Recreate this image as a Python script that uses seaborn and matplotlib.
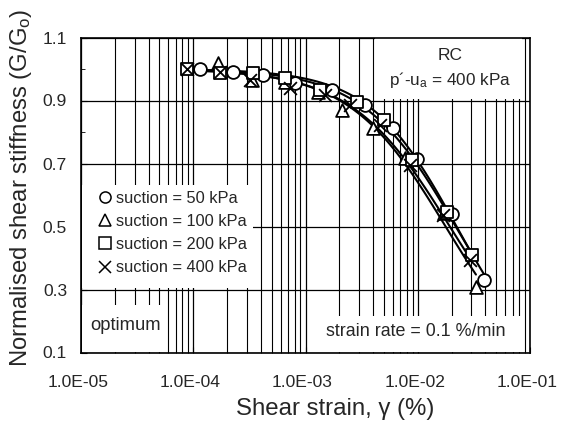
import numpy as np
import pandas as pd
import seaborn as sns
import matplotlib
matplotlib.use("Agg")
import matplotlib.pyplot as plt
import matplotlib.transforms as mtransforms
from matplotlib.lines import Line2D
from matplotlib.patches import Rectangle
from matplotlib.ticker import LogLocator, FixedLocator

# ---- data ----
strain_50 = [1.15e-4, 2.26e-4, 4.18e-4, 8.05e-4, 1.72e-3, 3.39e-3, 6.02e-3, 9.85e-3, 2.02e-2, 3.89e-2]
g_50 = [1.00, 0.99, 0.98, 0.956, 0.933, 0.886, 0.813, 0.715, 0.54, 0.33]

strain_100 = [1.66e-4, 3.33e-4, 6.56e-4, 1.29e-3, 2.11e-3, 3.99e-3, 7.69e-3, 1.71e-2, 3.30e-2]
g_100 = [1.019, 0.965, 0.959, 0.927, 0.870, 0.813, 0.717, 0.543, 0.308]

strain_200 = [8.8e-5, 1.73e-4, 3.40e-4, 6.56e-4, 1.35e-3, 2.88e-3, 5.0e-3, 8.9e-3, 1.82e-2, 3.04e-2]
g_200 = [1.0, 0.987, 0.987, 0.971, 0.933, 0.895, 0.838, 0.711, 0.546, 0.41]

strain_400 = [8.8e-5, 1.73e-4, 3.2e-4, 7.28e-4, 1.49e-3, 2.49e-3, 4.6e-3, 8.5e-3, 1.68e-2, 2.92e-2]
g_400 = [1.0, 0.99, 0.965, 0.94, 0.918, 0.886, 0.822, 0.695, 0.537, 0.394]

labels = ["suction = 50 kPa", "suction = 100 kPa", "suction = 200 kPa", "suction = 400 kPa"]
markers = ["o", "^", "s", "x"]

x_ticks = [1e-5, 1e-4, 1e-3, 1e-2, 1e-1]
x_tick_labels = ["1.0E-05", "1.0E-04", "1.0E-03", "1.0E-02", "1.0E-01"]
y_ticks = [0.1, 0.3, 0.5, 0.7, 0.9, 1.1]
y_tick_labels = ["0.1", "0.3", "0.5", "0.7", "0.9", "1.1"]

series = [
    pd.DataFrame({"strain": strain_50, "G": g_50}),
    pd.DataFrame({"strain": strain_100, "G": g_100}),
    pd.DataFrame({"strain": strain_200, "G": g_200}),
    pd.DataFrame({"strain": strain_400, "G": g_400}),
]


def hyperbolic_fit(d):
    """Least-squares fit of G/G0 = 1/(1+(g/gr)^a) to one series (trend curve)."""
    x = d["strain"].to_numpy()
    y = d["G"].to_numpy()
    grs = np.logspace(-3, 0, 400)
    aa = np.linspace(0.5, 2.0, 121)
    best = (np.inf, None, None)
    for a in aa:
        pred = 1.0 / (1.0 + (x[None, :] / grs[:, None]) ** a)
        sse = ((pred - y[None, :]) ** 2).sum(axis=1)
        i = int(np.argmin(sse))
        if sse[i] < best[0]:
            best = (sse[i], grs[i], a)
    _, gr, a = best
    xs = np.logspace(np.log10(x.min()), np.log10(x.max()), 120)
    return pd.DataFrame({"strain": xs, "G": 1.0 / (1.0 + (xs / gr) ** a)})


# ---- style ----
sns.set_style("ticks")
plt.rcParams["font.family"] = ["Liberation Sans", "DejaVu Sans"]
plt.rcParams["mathtext.default"] = "regular"

fig = plt.figure(figsize=(5.61, 4.25), dpi=100)
ax = fig.add_axes([81 / 561, 1 - 352.5 / 425, 449 / 561, 315 / 425])

# white boxes under the texts
for (x0, y0, x1, y1) in [(82, 185, 253, 288), (375, 38, 522, 99),
                         (320, 316, 522, 352), (82, 305, 165, 352)]:
    ax.add_patch(Rectangle(((x0 - 81) / 449, (352.5 - y1) / 315),
                           (x1 - x0) / 449, (y1 - y0) / 315,
                           transform=ax.transAxes, facecolor="white",
                           edgecolor="none", zorder=1))

for d in series:
    sns.lineplot(data=hyperbolic_fit(d), x="strain", y="G", color="black",
                 linewidth=1.5, legend=False, ax=ax, zorder=3)
for d, m in zip(series, markers):
    sns.scatterplot(data=d, x="strain", y="G", marker=m, s=85,
                    facecolor="white" if m != "x" else "black",
                    edgecolor="black", linewidth=1.3, legend=False, ax=ax,
                    zorder=4)

ax.set_xscale("log")
ax.set_xlim(1e-5, 1e-1)
ax.set_ylim(0.1, 1.1)

# grid
ax.set_axisbelow(True)
ax.xaxis.set_major_locator(FixedLocator(x_ticks))
ax.xaxis.set_minor_locator(LogLocator(base=10, subs=np.arange(2, 10)))
ax.yaxis.set_major_locator(FixedLocator(y_ticks))
ax.yaxis.set_minor_locator(FixedLocator([0.2, 0.4, 0.6, 0.8, 1.0]))
ax.grid(True, which="major", axis="both", color="black", linewidth=0.9)
ax.grid(True, which="minor", axis="x", color="black", linewidth=0.8)

ax.set_xticklabels(x_tick_labels)
ax.set_yticklabels(y_tick_labels)
ax.tick_params(axis="both", which="major", labelsize=12.6, direction="in", length=4, color="black")
ax.tick_params(axis="both", which="minor", direction="in", length=3, color="black")
ax.tick_params(axis="x", which="major", pad=16)
ax.tick_params(axis="y", which="major", pad=10)
shift = mtransforms.ScaledTranslation(-3 / 100, 0, fig.dpi_scale_trans)
for lbl in ax.get_xticklabels():
    lbl.set_transform(lbl.get_transform() + shift)
for s in ax.spines.values():
    s.set_color("black")
    s.set_linewidth(1.2)
    s.set_visible(True)

ax.set_xlabel("Shear strain, γ (%)", fontsize=17.3)
ax.set_ylabel("Normalised shear stiffness (G/G$_o$)", fontsize=17.2)
ax.xaxis.set_label_coords((335 - 81) / 449, (352.5 - 409) / 315)
ax.yaxis.set_label_coords((21 - 81) / 449, (352.5 - 188) / 315)
ax.xaxis.label.set_va("center")
ax.yaxis.label.set_va("center")

# legend
handles = [Line2D([], [], linestyle="none", marker=m, markersize=8,
                  markerfacecolor="white", markeredgecolor="black",
                  markeredgewidth=1.1) for m in markers]
leg = ax.legend(handles, labels, loc="center left",
                bbox_to_anchor=((98 - 81) / 449, (352.5 - 233) / 315),
                frameon=False, fontsize=11.8, handlelength=0.8,
                handletextpad=0.3, labelspacing=0.5, borderpad=0,
                borderaxespad=0)
leg.set_zorder(5)

ax.text((450 - 81) / 449, (352.5 - 55) / 315, "RC", transform=ax.transAxes,
        ha="center", va="center", fontsize=12.5, zorder=5)
ax.text((450 - 81) / 449, (352.5 - 80) / 315, "p´-u$_a$ = 400 kPa", transform=ax.transAxes,
        ha="center", va="center", fontsize=12.3, zorder=5)
ax.text((416 - 81) / 449, (352.5 - 332) / 315, "strain rate = 0.1 %/min", transform=ax.transAxes,
        ha="center", va="center", fontsize=12.9, zorder=5)
ax.text((126 - 81) / 449, (352.5 - 325) / 315, "optimum", transform=ax.transAxes,
        ha="center", va="center", fontsize=13.2, zorder=5)

fig.savefig("out.png", dpi=100, facecolor="white")
